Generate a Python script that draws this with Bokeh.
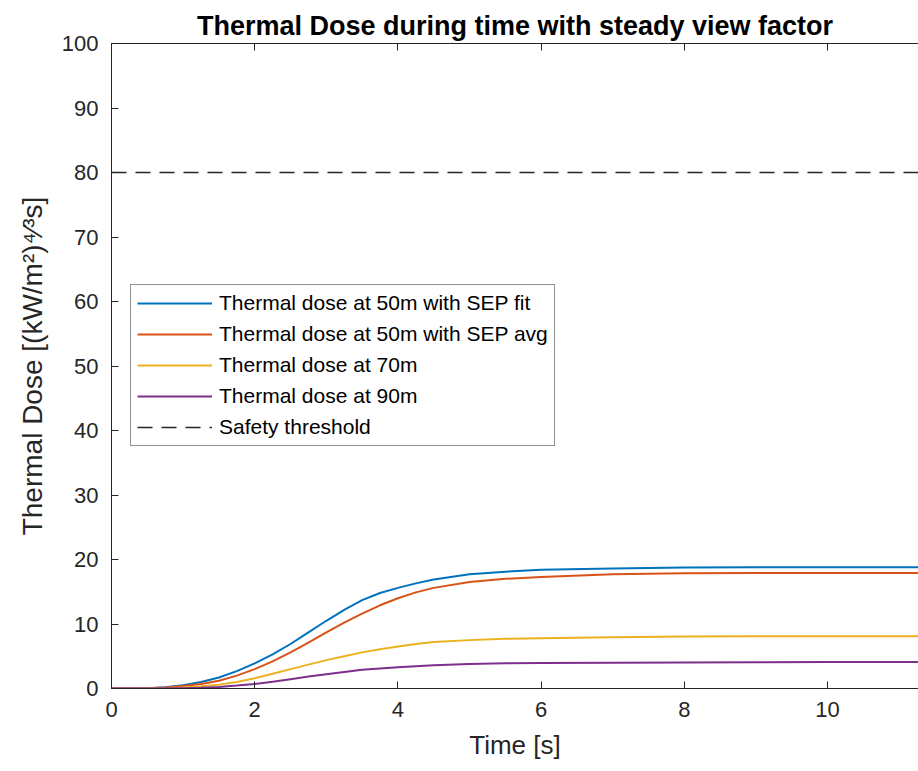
from bokeh.plotting import figure
from bokeh.models import Range1d, LinearAxis, Legend, LegendItem, FixedTicker
from bokeh.embed import file_html
from bokeh.resources import INLINE

# ---- data ----
time = [0, 0.5, 0.75, 1, 1.25, 1.5, 1.75, 2, 2.25, 2.5, 2.75, 3, 3.25, 3.5, 3.75,
        4, 4.25, 4.5, 5, 5.5, 6, 7, 8, 9, 10, 11.3]
dose_50_fit = [0, 0.05, 0.2, 0.5, 1.0, 1.7, 2.7, 3.9, 5.3, 6.9, 8.7, 10.5, 12.2, 13.7, 14.8,
               15.6, 16.3, 16.9, 17.7, 18.1, 18.4, 18.6, 18.75, 18.8, 18.8, 18.8]
dose_50_avg = [0, 0.03, 0.15, 0.4, 0.7, 1.2, 2.0, 3.0, 4.2, 5.6, 7.1, 8.7, 10.2, 11.6, 12.9,
               14.0, 14.9, 15.6, 16.5, 17.0, 17.3, 17.7, 17.85, 17.9, 17.9, 17.9]
dose_70 = [0, 0.02, 0.07, 0.15, 0.35, 0.6, 1.0, 1.6, 2.3, 3.0, 3.7, 4.4, 5.0, 5.6, 6.1,
           6.5, 6.9, 7.2, 7.5, 7.7, 7.8, 7.95, 8.05, 8.1, 8.1, 8.1]
dose_90 = [0, 0.01, 0.03, 0.05, 0.12, 0.25, 0.45, 0.7, 1.05, 1.45, 1.85, 2.2, 2.55, 2.9, 3.1,
           3.3, 3.45, 3.6, 3.8, 3.9, 3.95, 4.0, 4.05, 4.08, 4.1, 4.1]
threshold = 80
x_ticks = [0, 2, 4, 6, 8, 10]
y_ticks = [0, 10, 20, 30, 40, 50, 60, 70, 80, 90, 100]
labels = ["Thermal dose at 50m with SEP fit", "Thermal dose at 50m with SEP avg",
          "Thermal dose at 70m", "Thermal dose at 90m", "Safety threshold"]
colors = ["#0072BD", "#D95319", "#EDB120", "#7E2F8E", "#262626"]

FONT = "Liberation Sans"
AX = "#262626"

p = figure(width=918, height=771, output_backend="svg", toolbar_location=None,
           x_range=Range1d(0, 11.27), y_range=Range1d(0, 100),
           min_border_left=111, min_border_right=0, min_border_top=43, min_border_bottom=83,
           title="Thermal Dose during time with steady view factor")
p.outline_line_color = None
p.xgrid.visible = False
p.ygrid.visible = False
p.background_fill_color = "white"
p.border_fill_color = "white"

p.title.text_font = FONT
p.title.text_font_size = "27px"
p.title.text_font_style = "bold"
p.title.text_color = "#000000"
p.title.align = "center"
p.title.standoff = 6

for ax, ticks in ((p.xaxis[0], x_ticks), (p.yaxis[0], y_ticks)):
    ax.ticker = FixedTicker(ticks=ticks)
    ax.major_tick_in = 7
    ax.major_tick_out = 0
    ax.minor_tick_in = 0
    ax.minor_tick_out = 0
    ax.axis_line_color = AX
    ax.major_tick_line_color = AX
    ax.major_label_text_font = FONT
    ax.major_label_text_font_size = "22px"
    ax.major_label_text_color = AX
    ax.major_label_standoff = 13
    ax.axis_label_text_font = FONT
    ax.axis_label_text_font_size = "26px"
    ax.axis_label_text_font_style = "normal"
    ax.axis_label_text_color = AX

p.xaxis[0].axis_label = "Time [s]"
p.xaxis[0].axis_label_standoff = 10
p.yaxis[0].axis_label = "Thermal Dose [(kW/m\u00b2)\u2074\u2044\u00b3s]"
p.yaxis[0].axis_label_text_font_size = "28px"
p.yaxis[0].axis_label_standoff = 11

top = LinearAxis(ticker=FixedTicker(ticks=x_ticks), major_tick_in=7, major_tick_out=0,
                 minor_tick_in=0, minor_tick_out=0, axis_line_color=AX,
                 major_tick_line_color=AX, major_label_text_font_size="0px",
                 major_label_text_alpha=0, major_label_standoff=0)
p.add_layout(top, "above")

series = [dose_50_fit, dose_50_avg, dose_70, dose_90]
renderers = []
for ys, c in zip(series, colors[:4]):
    renderers.append(p.line(time, ys, line_color=c, line_width=2))
renderers.append(p.line([time[0], time[-1]], [threshold, threshold], line_color=AX,
                        line_width=1.5, line_dash="15 9"))

legend = Legend(items=[LegendItem(label=l, renderers=[r]) for l, r in zip(labels, renderers)],
                location=(19, 242), margin=0, padding=6, spacing=7,
                glyph_width=75, glyph_height=20, label_height=20, label_standoff=7,
                label_text_font=FONT, label_text_font_size="21px", label_text_color="#000000",
                border_line_color=AX, border_line_width=1, background_fill_color="white",
                background_fill_alpha=1)
p.add_layout(legend, "center")

open("out.html", "w").write(file_html(p, INLINE))
